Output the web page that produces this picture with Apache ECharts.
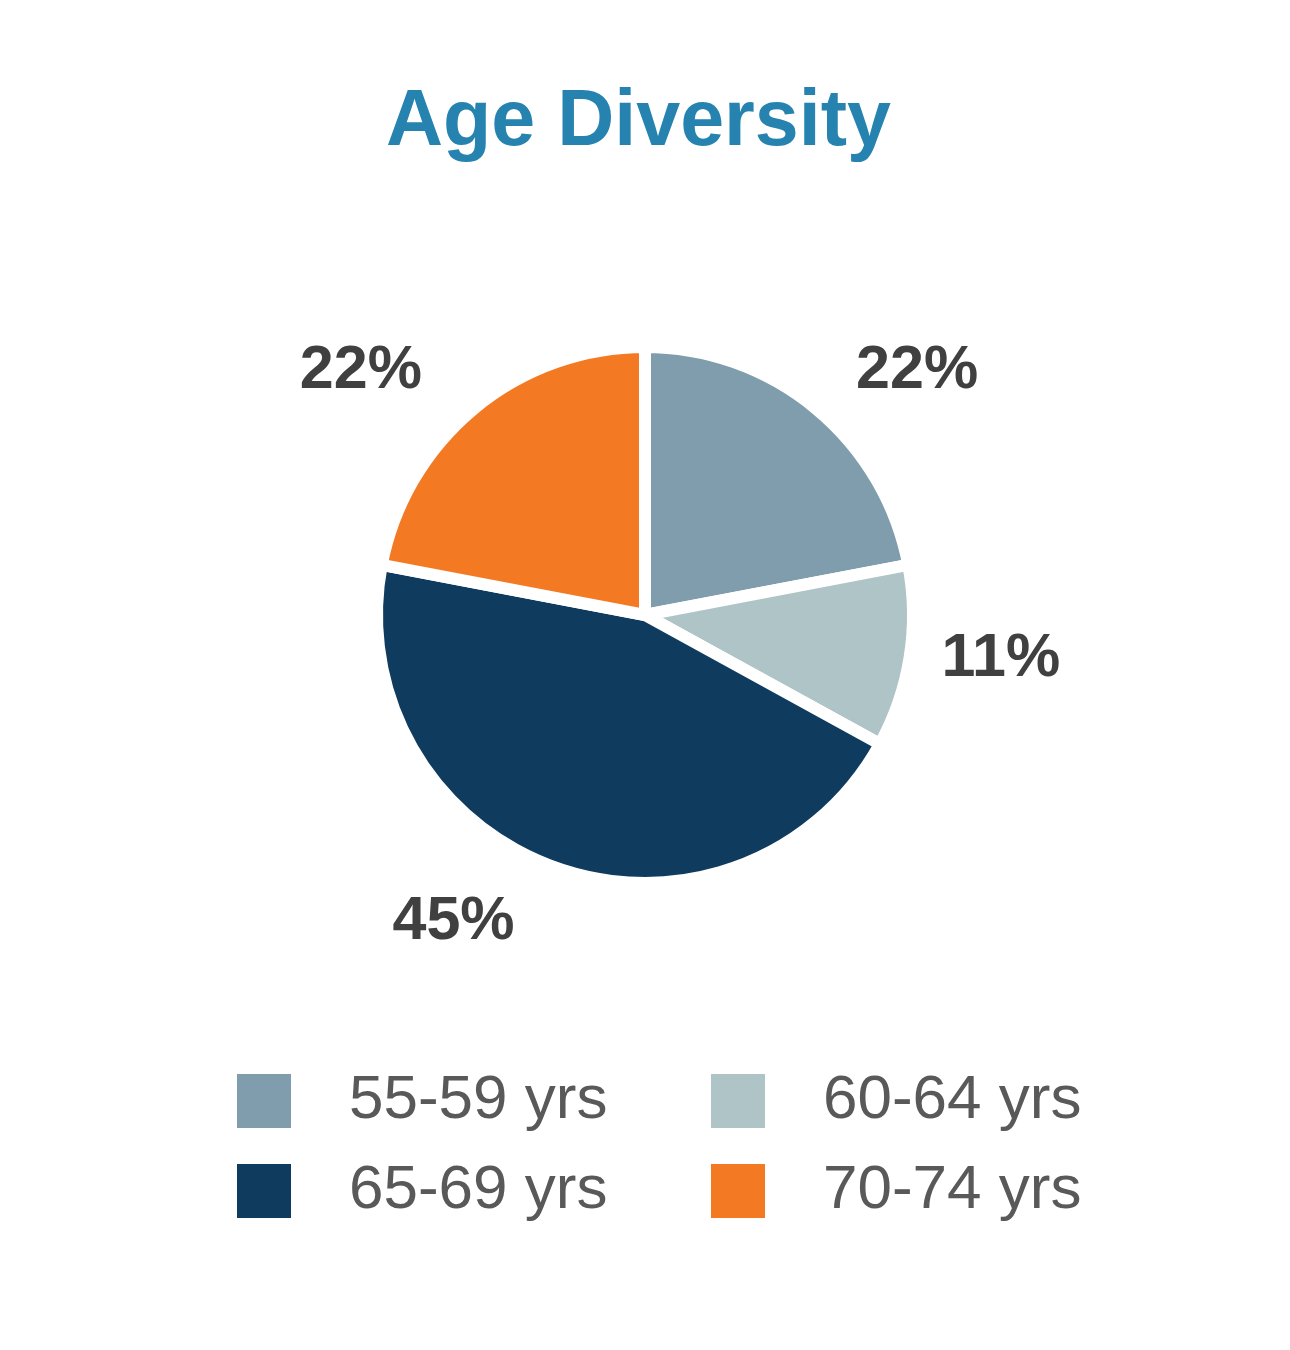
<!DOCTYPE html>
<html>
<head>
<meta charset="utf-8">
<script src="https://cdn.jsdelivr.net/npm/echarts@6/dist/echarts.min.js"></script>
<style>
  html, body { margin: 0; padding: 0; background: #ffffff; }
  #chart { width: 1290px; height: 1350px; }
</style>
</head>
<body>
<div id="chart"></div>
<script>
const titleText = 'Age Diversity';
const categories = ['55-59 yrs', '60-64 yrs', '65-69 yrs', '70-74 yrs'];
const values = [22, 11, 45, 22];
const colors = ['#7F9DAD', '#AEC4C6', '#0F3B5F', '#F37A23'];
// per-slice label leader lengths (invisible lines, used only to place the labels)
const labelLen = [49, 14, 58, 49];
const labelLen2 = [4, 13, 15, 16];

const chart = echarts.init(document.getElementById('chart'), null, { renderer: 'canvas' });

const pieData = categories.map((name, i) => ({
  name: name,
  value: values[i],
  itemStyle: { color: colors[i] },
  labelLine: { show: false, length: labelLen[i], length2: labelLen2[i] }
}));

const legendCommon = {
  orient: 'vertical',
  padding: 0,
  itemWidth: 54,
  itemHeight: 54,
  itemGap: 28,
  icon: 'rect',
  selectedMode: false,
  itemStyle: { borderWidth: 0 },
  textStyle: {
    fontFamily: 'Liberation Sans, Arial, sans-serif',
    fontSize: 62,
    color: '#595959',
    lineHeight: 54,
    padding: [0, 0, 0, 53]
  }
};

const option = {
  backgroundColor: '#ffffff',
  animation: false,
  title: {
    text: titleText,
    left: 381,
    top: 79,
    textStyle: {
      fontFamily: 'Liberation Sans, Arial, sans-serif',
      fontSize: 79,
      fontWeight: 'bold',
      color: '#2683B0'
    }
  },
  legend: [
    Object.assign({}, legendCommon, { left: 237, top: 1070, data: [categories[0], categories[2]] }),
    Object.assign({}, legendCommon, { left: 711, top: 1070, data: [categories[1], categories[3]] })
  ],
  series: [{
    type: 'pie',
    center: [645, 615],
    radius: 268,
    startAngle: 90,
    clockwise: true,
    avoidLabelOverlap: false,
    silent: true,
    itemStyle: { borderColor: '#ffffff', borderWidth: 12 },
    label: {
      show: true,
      position: 'outside',
      formatter: '{c}%',
      fontFamily: 'Liberation Sans, Arial, sans-serif',
      fontSize: 61,
      fontWeight: 'bold',
      color: '#404040',
      distanceToLabelLine: 5
    },
    labelLine: { show: false },
    data: pieData
  }]
};

chart.setOption(option);
</script>
</body>
</html>
